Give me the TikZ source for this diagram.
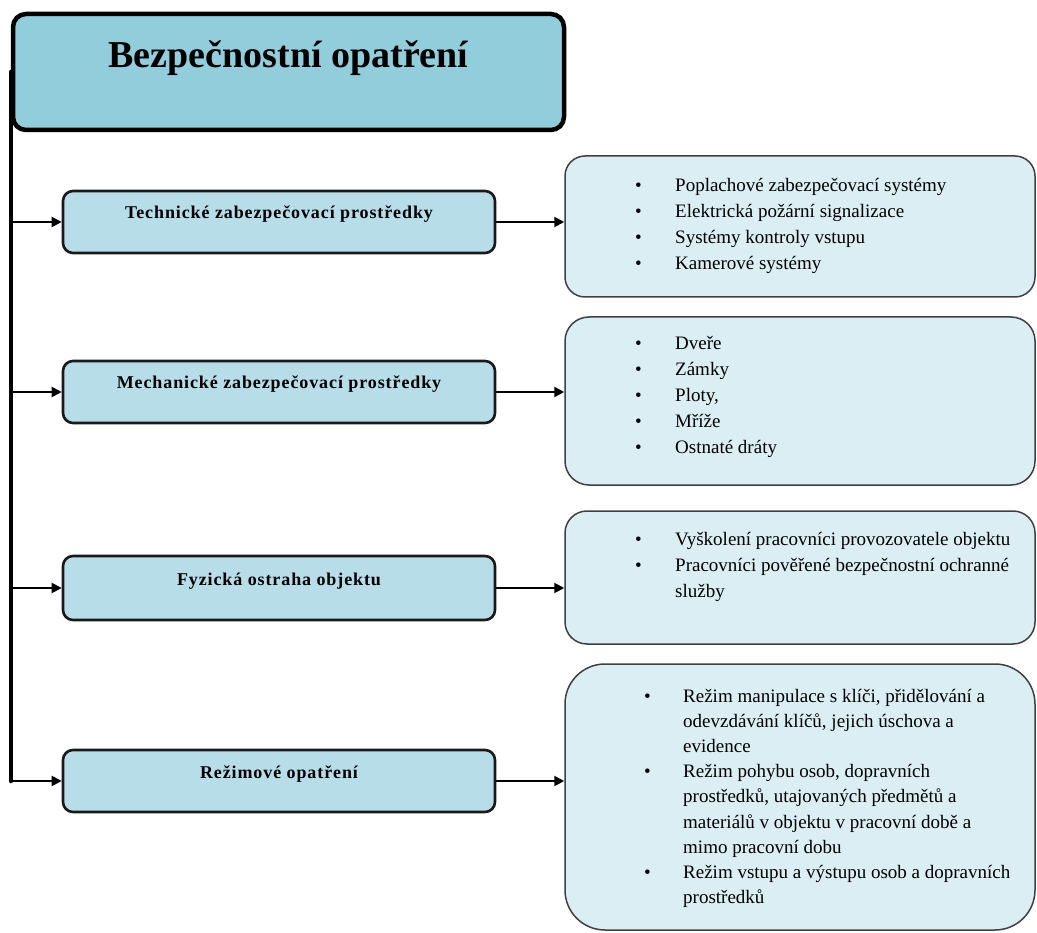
\documentclass[tikz,border=0pt]{standalone}
\usepackage{fontspec}
\setmainfont{Liberation Serif}
\usetikzlibrary{arrows.meta,calc}
\definecolor{titlefill}{HTML}{92CDDC}
\definecolor{midfill}{HTML}{B7DDE8}
\definecolor{rfill}{HTML}{DAEEF3}
\definecolor{rborder}{HTML}{404040}
\begin{document}
\begin{tikzpicture}[x=1pt,y=-1pt,
  titlebox/.style={draw=black, line width=4.5pt, fill=titlefill, rounded corners=13pt,
    minimum width=551pt, minimum height=116pt, inner sep=0pt,
    font=\fontsize{38}{40}\selectfont\bfseries, text height=14pt, text depth=22pt},
  midbox/.style={draw=black!90, line width=2.6pt, fill=midfill, rounded corners=10pt,
    minimum width=432pt, minimum height=62pt, inner sep=0pt,
    font=\fontsize{18}{20}\selectfont\bfseries\addfontfeature{LetterSpace=5},
    text height=5pt, text depth=11pt},
  rbox/.style={draw=rborder, line width=1.5pt, fill=rfill, minimum width=470pt, inner sep=0pt},
  rlist/.style={anchor=base west, inner sep=0pt, font=\fontsize{19}{26}\selectfont},
  trunk/.style={line width=4.5pt, line cap=round},
  link/.style={line width=2pt, -{Triangle[length=10pt,width=10pt]}},
]
\useasboundingbox (0,0) rectangle (1037,933);

% title
\node[titlebox] (title) at (288.5,72) {Bezpečnostní opatření};

% middle boxes
\node[midbox] (m1) at (279,222) {Technické zabezpečovací prostředky};
\node[midbox] (m2) at (279,392) {Mechanické zabezpečovací prostředky};
\node[midbox, minimum height=64pt] (m3) at (279,588) {Fyzická ostraha objektu};
\node[midbox] (m4) at (279,781) {Režimové opatření};

% right boxes
\node[rbox, minimum height=141pt, rounded corners=20pt] (r1) at (800,226.5) {};
\node[rbox, minimum height=168pt, rounded corners=24pt] (r2) at (800,401) {};
\node[rbox, minimum height=133pt, rounded corners=22pt] (r3) at (800,577.5) {};
\node[rbox, minimum height=266pt, rounded corners=40pt] (r4) at (800,797) {};

% lists
\node[rlist] (l1) at (635,191.5) {\begin{tabular}[t]{@{}p{40pt}@{}l@{}}
\textbullet & Poplachové zabezpečovací systémy\\
\textbullet & Elektrická požární signalizace\\
\textbullet & Systémy kontroly vstupu\\
\textbullet & Kamerové systémy
\end{tabular}};
\node[rlist] (l2) at (635,349.5) {\begin{tabular}[t]{@{}p{40pt}@{}l@{}}
\textbullet & Dveře\\
\textbullet & Zámky\\
\textbullet & Ploty,\\
\textbullet & Mříže\\
\textbullet & Ostnaté dráty
\end{tabular}};
\node[rlist] (l3) at (635,545) {\begin{tabular}[t]{@{}p{40pt}@{}l@{}}
\textbullet & Vyškolení pracovníci provozovatele objektu\\
\textbullet & Pracovníci pověřené bezpečnostní ochranné\\
 & služby
\end{tabular}};
\node[rlist, font=\fontsize{19}{25.2}\selectfont] (l4) at (644,702) {\begin{tabular}[t]{@{}p{39pt}@{}l@{}}
\textbullet & Režim manipulace s klíči, přidělování a\\
 & odevzdávání klíčů, jejich úschova a\\
 & evidence\\
\textbullet & Režim pohybu osob, dopravních\\
 & prostředků, utajovaných předmětů a\\
 & materiálů v objektu v pracovní době a\\
 & mimo pracovní dobu\\
\textbullet & Režim vstupu a výstupu osob a dopravních\\
 & prostředků
\end{tabular}};

% trunk and connectors
\draw[trunk] (title.west) -- (title.west |- m4.west);
\foreach \i in {1,2,3,4} {
  \draw[link] (title.west |- m\i.west) -- (m\i.west);
  \draw[link] (m\i.east) -- (m\i.east -| r\i.west);
}
\end{tikzpicture}
\end{document}
